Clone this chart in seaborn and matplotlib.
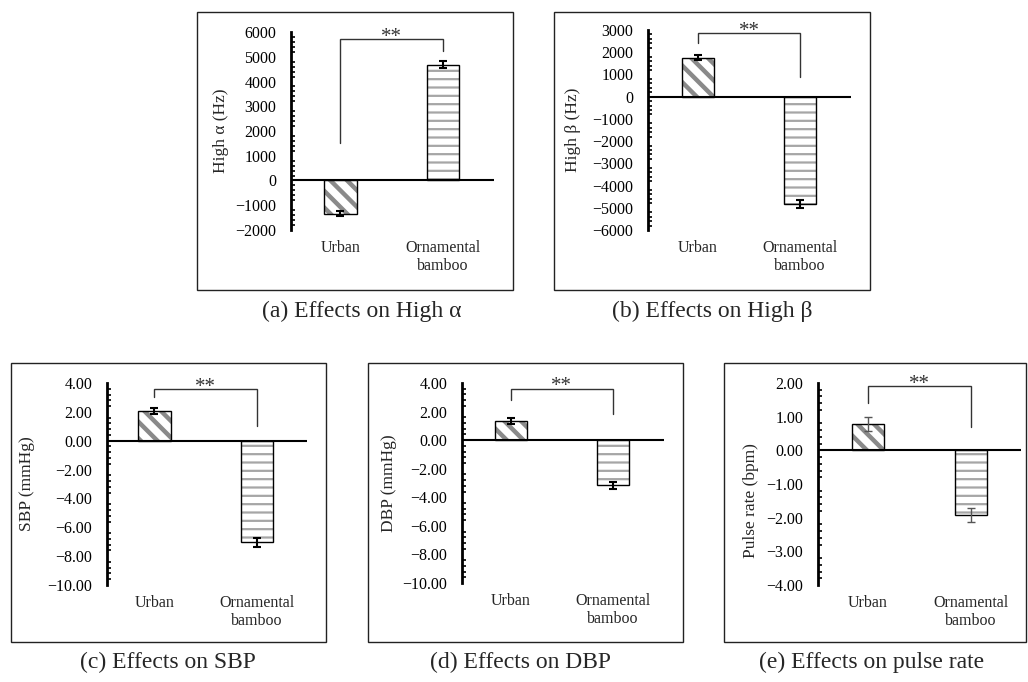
import matplotlib
matplotlib.use('Agg')
import matplotlib.pyplot as plt
import seaborn as sns
from matplotlib.patches import Rectangle
from matplotlib.ticker import MultipleLocator, FuncFormatter

# ---------------- data ----------------
categories = ['Urban', 'Ornamental\nbamboo']

high_alpha = [-1350, 4680]
high_alpha_err = [100, 150]
high_beta = [1760, -4850]
high_beta_err = [130, 180]
sbp = [2.05, -7.05]
sbp_err = [0.20, 0.30]
dbp = [1.33, -3.15]
dbp_err = [0.22, 0.25]
pulse = [0.77, -1.93]
pulse_err = [0.21, 0.21]

ylabels = ['High α (Hz)', 'High β (Hz)', 'SBP (mmHg)', 'DBP (mmHg)', 'Pulse rate (bpm)']
captions = ['(a) Effects on High α', '(b) Effects on High β', '(c) Effects on SBP',
            '(d) Effects on DBP', '(e) Effects on pulse rate']
ylims = [(-2000, 6000), (-6000, 3000), (-10, 4), (-10, 4), (-4, 2)]
major_steps = [1000, 1000, 2, 2, 1]
decimals = [0, 0, 2, 2, 2]
sig_label = '**'
# bracket: left-leg start, right-leg start, top
brackets = [(1500, 5250, 5700), (2400, 900, 2850), (3.0, 1.0, 3.6), (2.8, 1.8, 3.6), (1.4, 0.7, 1.9)]

series = [(high_alpha, high_alpha_err), (high_beta, high_beta_err), (sbp, sbp_err),
          (dbp, dbp_err), (pulse, pulse_err)]

# ---------------- layout (pixels) ----------------
W, H = 1028, 682
axes_px = [(291, 494, 32, 230), (648, 851, 30, 230), (107, 307, 383, 585),
           (462, 664, 383, 583), (818, 1021, 383, 585)]
box_px = [(197, 513, 12, 290), (554, 870, 12, 290), (11, 326, 363, 642),
          (368, 683, 363, 642), (724, 1026, 363, 642)]
caption_px = [(362, 311), (712, 311), (168, 662), (520, 662), (872, 662)]
ylabel_right_px = [229, 581, 35, 397, 759]
ylabel_center_frac = [0.5, 0.5, 0.5, 0.5, 0.42]
xlims = [(-0.483, 1.498), (-0.49, 1.5), (-0.463, 1.488), (-0.48, 1.5), (-0.488, 1.49)]

sns.set_style('white')
plt.rcParams['font.family'] = ['Liberation Serif', 'DejaVu Serif']
plt.rcParams['axes.unicode_minus'] = True

fig = plt.figure(figsize=(W / 100, H / 100), dpi=100)

hatches = ['\\\\', '--']
hatch_colors = ['#8a8a8a', '#a6a6a6']
hatch_lws = [3.2, 1.6]

for i in range(5):
    l, r, t, b = axes_px[i]
    ax = fig.add_axes([l / W, 1 - b / H, (r - l) / W, (b - t) / H])
    vals, errs = series[i]
    sns.barplot(x=categories, y=vals, ax=ax, width=0.315, errorbar=None,
                color='white', saturation=1, order=categories)
    xs = []
    for j, p in enumerate(ax.patches):
        p.set_facecolor('white')
        p.set_edgecolor(hatch_colors[j])
        p.set_hatch(hatches[j])
        p.set_linewidth(0)
        if hasattr(p, 'set_hatch_linewidth'):
            p.set_hatch_linewidth(hatch_lws[j])
        x0, w = p.get_x(), p.get_width()
        y0, h = p.get_y(), p.get_height()
        ax.add_patch(Rectangle((x0, y0), w, h, fill=False, edgecolor='black',
                               linewidth=1.0, zorder=3))
        xs.append(x0 + w / 2)

    ecol = '#555555' if i == 4 else 'black'
    elw = 1.0 if i == 4 else 1.5
    ax.errorbar(xs, vals, yerr=errs, fmt='none', ecolor=ecol, elinewidth=elw,
                capsize=3.2, capthick=elw, zorder=4)

    ax.axhline(0, color='black', lw=1.5, zorder=5)

    # significance bracket
    bl, br, btop = brackets[i]
    ax.plot([xs[0], xs[0], xs[1], xs[1]], [bl, btop, btop, br], color='#333333', lw=1.0,
            solid_joinstyle='miter')
    ax.annotate(sig_label, xy=((xs[0] + xs[1]) / 2, btop), xytext=(0, -2),
                textcoords='offset points', ha='center', va='baseline',
                fontsize=15, color='#333333')

    ax.set_ylim(*ylims[i])
    ax.set_xlim(*xlims[i])
    ax.yaxis.set_major_locator(MultipleLocator(major_steps[i]))
    ax.yaxis.set_minor_locator(MultipleLocator(major_steps[i] / 5))
    d = decimals[i]
    ax.yaxis.set_major_formatter(FuncFormatter(
        lambda v, pos, d=d: (f'{v:.{d}f}').replace('-', '\u2212')))
    for side in ['top', 'right', 'bottom']:
        ax.spines[side].set_visible(False)
    ax.spines['left'].set_linewidth(2.0)
    ax.spines['left'].set_color('black')
    ax.tick_params(axis='y', which='major', direction='in', length=5, width=1.5,
                   pad=10.5, labelsize=11.5, colors='black')
    ax.tick_params(axis='y', which='minor', direction='in', length=3, width=1.2,
                   colors='black', left=True)
    ax.tick_params(axis='x', length=0, pad=7, labelsize=11.5)
    ax.set_xlabel('')
    ax.set_ylabel(ylabels[i], fontsize=12.5)
    ax.yaxis.set_label_coords((ylabel_right_px[i] - l) / (r - l), ylabel_center_frac[i])
    ax.patch.set_alpha(0)

    # frame box and caption
    x0, x1, y0, y1 = box_px[i]
    fig.add_artist(Rectangle((x0 / W, 1 - y1 / H), (x1 - x0) / W, (y1 - y0) / H,
                             transform=fig.transFigure, fill=False,
                             edgecolor='#222222', linewidth=1.0))
    cx, cy = caption_px[i]
    fig.text(cx / W, 1 - cy / H, captions[i], ha='center', va='center', fontsize=17)

fig.savefig('out.png', dpi=100)
